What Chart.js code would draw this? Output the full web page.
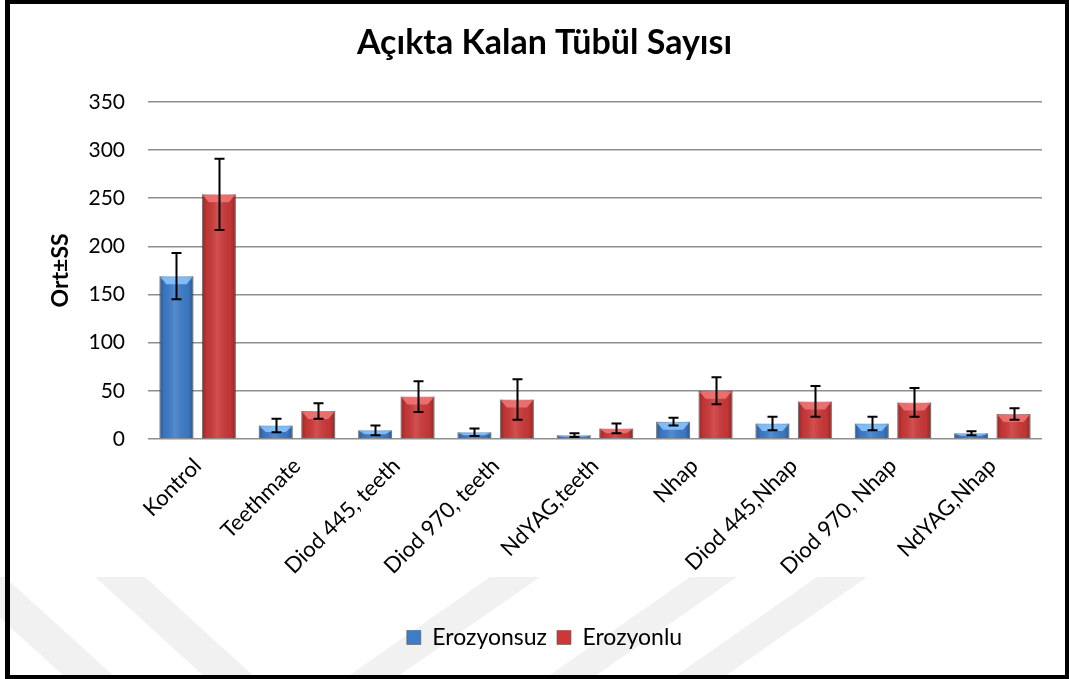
<!DOCTYPE html>
<html>
<head>
<meta charset="utf-8">
<script src="https://cdn.jsdelivr.net/npm/chart.js@4/dist/chart.umd.min.js"></script>
<style>
  html, body { margin: 0; padding: 0; background: #fff; }
  #wrap { position: relative; width: 1069px; height: 679px; }
  #frame {
    position: absolute; left: 5px; top: 0; width: 1064px; height: 679px;
    box-sizing: border-box; border: 4px solid #000; border-left-width: 5px;
    pointer-events: none;
  }
</style>
</head>
<body>
<div id="wrap">
  <canvas id="tubulChart" width="1069" height="679"></canvas>
  <div id="frame"></div>
</div>
<script>
// Gruplar ve ortalama / standart sapma değerleri
const categories = ['Kontrol', 'Teethmate', 'Diod 445, teeth', 'Diod 970, teeth', 'NdYAG,teeth',
                    'Nhap', 'Diod 445,Nhap', 'Diod 970, Nhap', 'NdYAG,Nhap'];
const erozyonsuz   = [169, 14, 9, 7, 4, 18, 16, 16, 6];
const erozyonsuzSS = [24, 7, 5, 4, 2, 4, 7, 7, 2];
const erozyonlu    = [254, 29, 44, 41, 11, 50, 39, 38, 26];
const erozyonluSS  = [37, 8, 16, 21, 5, 14, 16, 15, 6];
const yTicks = [0, 50, 100, 150, 200, 250, 300, 350];

const FONT = "Lato, 'Open Sans', sans-serif";

// light diagonal bands behind the chart
const backdrop = {
    id: 'backdrop',
    beforeDraw(chart) {
        const ctx = chart.ctx;
        ctx.save();
        ctx.fillStyle = '#fff';
        ctx.fillRect(0, 0, chart.width, chart.height);
        ctx.fillStyle = 'rgba(0,0,0,0.055)';
        const top = 577, bottom = 679;
        const bands = [
            [-45, 5, 112], [95, 145, 112],
            [490, 540, -146], [690, 737, -146], [817, 867, -146]
        ];
        bands.forEach(([a, b, shift]) => {
            ctx.beginPath();
            ctx.moveTo(a, top);
            ctx.lineTo(b, top);
            ctx.lineTo(b + shift, bottom);
            ctx.lineTo(a + shift, bottom);
            ctx.closePath();
            ctx.fill();
        });
        ctx.restore();
    }
};

// shading on the bars plus the ± SS whiskers
const barDecor = {
    id: 'barDecor',
    afterDatasetsDraw(chart) {
        const ctx = chart.ctx;
        const yScale = chart.scales.y;
        const sds = [erozyonsuzSS, erozyonluSS];
        const bevels = ['rgba(140,200,255,0.85)', 'rgba(240,120,120,0.85)'];
        ctx.save();
        chart.data.datasets.forEach((ds, di) => {
            const meta = chart.getDatasetMeta(di);
            meta.data.forEach((bar, i) => {
                const half = bar.width / 2;
                const l = bar.x - half, r = bar.x + half;
                const t = bar.y, b = bar.base;
                // cylinder-like horizontal shading
                const g = ctx.createLinearGradient(l, 0, r, 0);
                g.addColorStop(0, 'rgba(0,0,0,0.28)');
                g.addColorStop(0.15, 'rgba(0,0,0,0.05)');
                g.addColorStop(0.45, 'rgba(255,255,255,0.12)');
                g.addColorStop(0.85, 'rgba(0,0,0,0.05)');
                g.addColorStop(1, 'rgba(0,0,0,0.3)');
                ctx.fillStyle = g;
                ctx.fillRect(l, t, r - l, b - t);
                // bevelled top face
                const h = Math.min(8, (b - t) / 2);
                ctx.fillStyle = bevels[di];
                ctx.beginPath();
                ctx.moveTo(l + 1, t + 1);
                ctx.lineTo(r - 1, t + 1);
                ctx.lineTo(r - 7, t + h);
                ctx.lineTo(l + 7, t + h);
                ctx.closePath();
                ctx.fill();
            });
        });
        // error bars
        ctx.strokeStyle = '#000';
        ctx.lineWidth = 2;
        chart.data.datasets.forEach((ds, di) => {
            const meta = chart.getDatasetMeta(di);
            meta.data.forEach((bar, i) => {
                const v = ds.data[i], sd = sds[di][i];
                const yHi = yScale.getPixelForValue(v + sd);
                const yLo = yScale.getPixelForValue(v - sd);
                const x = Math.round(bar.x) + 0.5;
                ctx.beginPath();
                ctx.moveTo(x, yHi); ctx.lineTo(x, yLo);
                ctx.moveTo(x - 5, yHi); ctx.lineTo(x + 5, yHi);
                ctx.moveTo(x - 5, yLo); ctx.lineTo(x + 5, yLo);
                ctx.stroke();
            });
        });
        ctx.restore();
    }
};

const ctx = document.getElementById('tubulChart').getContext('2d');
new Chart(ctx, {
    type: 'bar',
    data: {
        labels: categories,
        datasets: [
            {
                label: 'Erozyonsuz',
                data: erozyonsuz,
                backgroundColor: '#3d7cc9',
                borderColor: 'rgba(90,90,90,0.6)',
                borderWidth: 1,
                categoryPercentage: 0.855,
                barPercentage: 0.8
            },
            {
                label: 'Erozyonlu',
                data: erozyonlu,
                backgroundColor: '#cc3838',
                borderColor: 'rgba(90,90,90,0.6)',
                borderWidth: 1,
                categoryPercentage: 0.855,
                barPercentage: 0.8
            }
        ]
    },
    options: {
        responsive: false,
        animation: false,
        layout: { padding: { left: 47, right: 27, top: 4, bottom: 20 } },
        scales: {
            x: {
                grid: { display: false },
                border: { display: false },
                ticks: {
                    color: '#000',
                    font: { family: FONT, size: 22 },
                    maxRotation: 45,
                    minRotation: 45,
                    padding: 6
                },
                afterFit(scale) { scale.height = 177; }
            },
            y: {
                min: 0,
                max: 350,
                afterBuildTicks(scale) { scale.ticks = yTicks.map(v => ({ value: v })); },
                grid: { color: '#8f8f8f', lineWidth: 1.5, drawTicks: false },
                border: { display: false },
                ticks: {
                    color: '#000',
                    font: { family: FONT, size: 21 },
                    padding: 23
                },
                title: {
                    display: true,
                    text: 'Ort±SS',
                    color: '#000',
                    font: { family: FONT, size: 23, weight: 'bold' },
                    padding: 0
                },
                afterFit(scale) { scale.width = 101; }
            }
        },
        plugins: {
            title: {
                display: true,
                text: 'Açıkta Kalan Tübül Sayısı',
                color: '#000',
                font: { family: FONT, size: 34, weight: 'bold' },
                padding: { top: 19, bottom: 38 }
            },
            legend: {
                position: 'bottom',
                labels: {
                    color: '#000',
                    font: { family: FONT, size: 23 },
                    boxWidth: 14,
                    boxHeight: 14,
                    padding: 10
                }
            },
            tooltip: { enabled: false }
        }
    },
    plugins: [backdrop, barDecor]
});
</script>
</body>
</html>
